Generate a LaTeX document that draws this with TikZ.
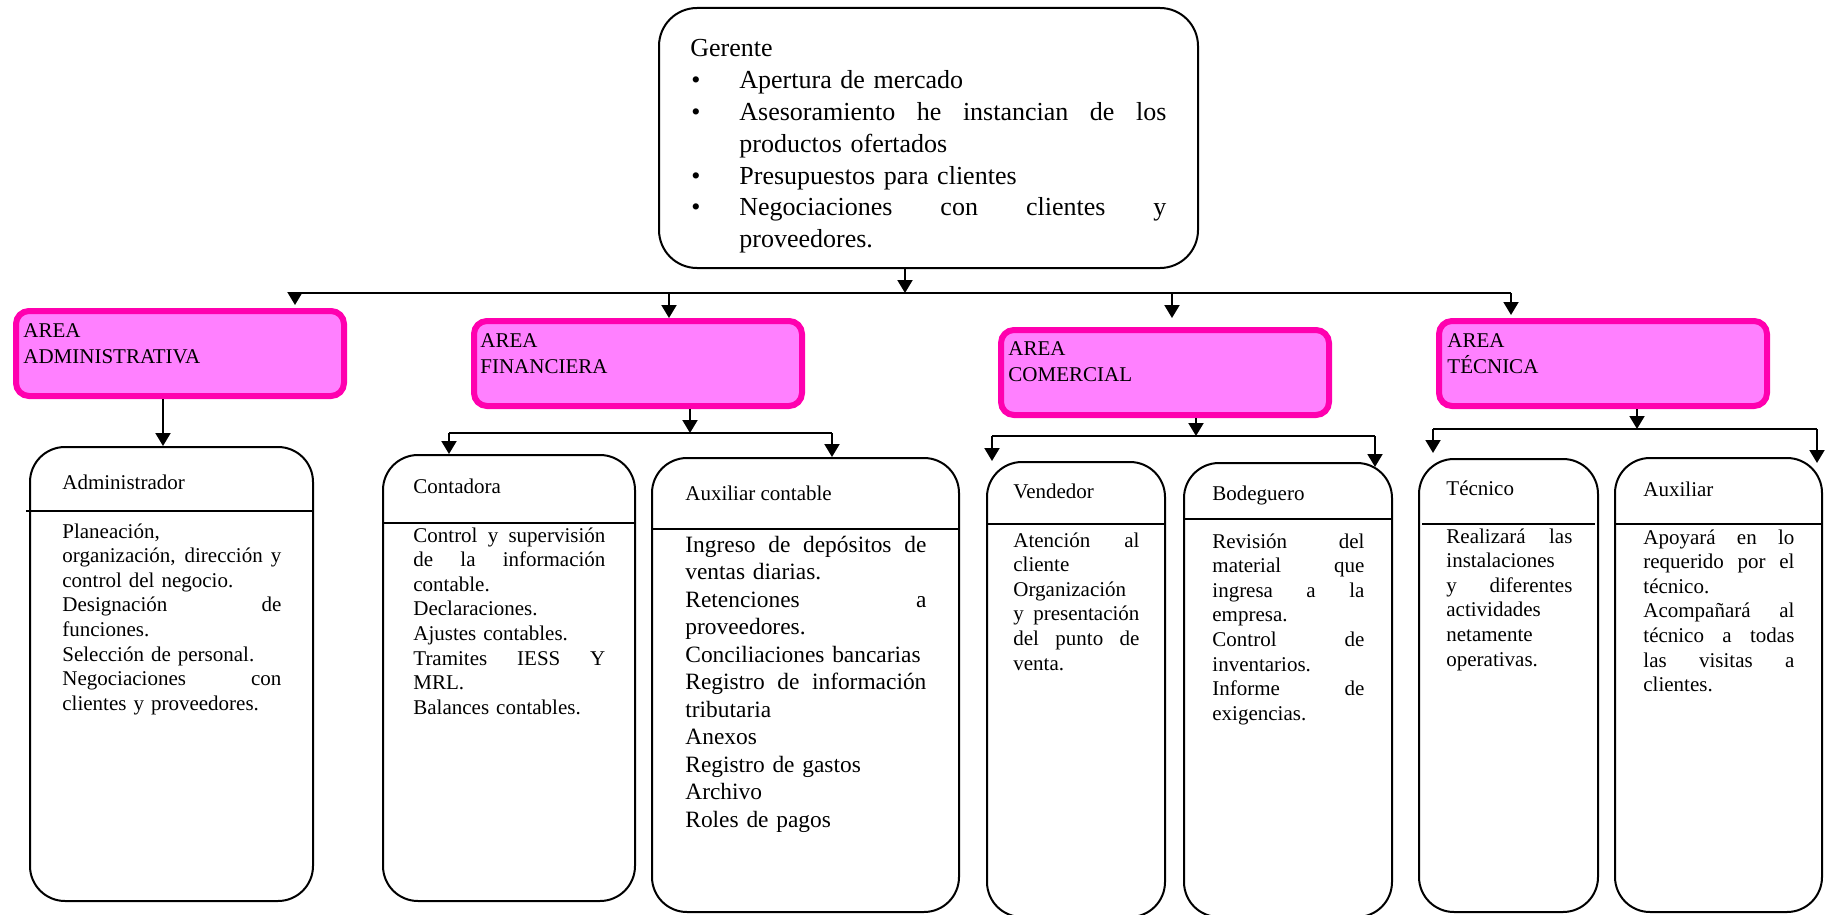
\documentclass[tikz,border=0pt]{standalone}
\usepackage{fontspec}
\setmainfont{Liberation Serif}
\usetikzlibrary{arrows.meta}

\definecolor{areaFill}{RGB}{255,128,255}
\definecolor{areaLine}{RGB}{255,0,175}

\newcommand{\jl}[2][\hsize]{\makebox[#1][s]{\spaceskip=0pt\xspaceskip=0pt #2}}
\newcommand{\gitem}[1]{\makebox[24.5pt][l]{\hspace{0.5pt}\textbullet}#1}

\begin{document}
\begin{tikzpicture}[x=0.5pt, y=-0.5pt,
  arr/.style={-{Triangle[length=6.5pt,width=7.5pt]}, line width=1pt},
  areabox/.style={draw=areaLine, fill=areaFill, line width=3pt, rounded corners=6.5pt,
    minimum width=164pt, minimum height=42.5pt, anchor=north west, inner sep=0pt},
  jobbox/.style={draw, line width=1pt, rounded corners=17.5pt, anchor=north west, inner sep=0pt},
  areatxt/.style={anchor=base west, inner sep=0pt, align=left, text width=150pt,
    font={\fontsize{10.5}{13}\selectfont}},
  titletxt/.style={anchor=base west, inner sep=0pt, font={\fontsize{10.5}{12.3}\selectfont}},
  bodytxt/.style={anchor=base west, inner sep=0pt, align=left,
    font={\fontsize{10.5}{12.3}\selectfont}}]
\useasboundingbox (0,0) rectangle (1825,915);

%% Gerente
\node[jobbox, rounded corners=19pt, minimum width=269.5pt, minimum height=130pt] (gerente) at (658,7) {};
\node[anchor=base west, inner sep=0pt, align=left, text width=238pt,
  font={\fontsize{13}{15.9}\selectfont}] (gerTxt) at (690,57) {Gerente\\
  \gitem{Apertura de mercado}\\
  \gitem{\jl[213.5pt]{Asesoramiento he instancian de los}}\\
  \hspace*{24.5pt}productos ofertados\\
  \gitem{Presupuestos para clientes}\\
  \gitem{\jl[213.5pt]{Negociaciones con clientes y}}\\
  \hspace*{24.5pt}proveedores.};

%% areas
\node[areabox] (admArea) at (13,308) {};
\node[areabox] (finArea) at (471,318) {};
\node[areabox] (comArea) at (998,327) {};
\node[areabox] (tecArea) at (1436,318) {};
\node[areatxt] (admTxt) at (23,337) {AREA\\ADMINISTRATIVA};
\node[areatxt] (finTxt) at (480,347) {AREA\\FINANCIERA};
\node[areatxt] (comTxt) at (1008,355) {AREA\\COMERCIAL};
\node[areatxt] (tecTxt) at (1447,347) {AREA\\TÉCNICA};

%% cargos
\node[jobbox, minimum width=141.5pt, minimum height=227pt] (administrador) at (29,446) {};
\node[jobbox, minimum width=126pt, minimum height=223pt] (contadora) at (382,454) {};
\node[jobbox, minimum width=153.5pt, minimum height=227pt] (auxContable) at (651,457) {};
\node[jobbox, minimum width=89pt, minimum height=227.5pt] (vendedor) at (986,461) {};
\node[jobbox, minimum width=104pt, minimum height=227pt] (bodeguero) at (1183,462) {};
\node[jobbox, minimum width=89.5pt, minimum height=226.5pt] (tecnico) at (1418,458) {};
\node[jobbox, minimum width=103.5pt, minimum height=227pt] (auxiliar) at (1614,457) {};

\draw[line width=1pt] (26,511) -- (314,511);
\draw[line width=1pt] (382,523) -- (636,523);
\draw[line width=1pt] (651,529) -- (960,529);
\draw[line width=1pt] (986,524) -- (1166,524);
\draw[line width=1pt] (1183,519) -- (1393,519);
\draw[line width=1pt] (1422,524) -- (1595,524);
\draw[line width=1pt] (1614,524) -- (1823,524);

\node[titletxt] (admTitle) at (62,489) {Administrador};
\node[titletxt] (conTitle) at (413,493) {Contadora};
\node[titletxt] (auxcTitle) at (685,500) {Auxiliar contable};
\node[titletxt] (venTitle) at (1013,498) {Vendedor};
\node[titletxt] (bodTitle) at (1212,500) {Bodeguero};
\node[titletxt] (tecTitle) at (1446,495) {Técnico};
\node[titletxt] (auxTitle) at (1643,496) {Auxiliar};

\node[bodytxt, text width=109.5pt] (admBody) at (62,538) {Planeación,\\
  \jl{organización, dirección y}\\ control del negocio.\\
  \jl{Designación de}\\ funciones.\\
  Selección de personal.\\
  \jl{Negociaciones con}\\ clientes y proveedores.};
\node[bodytxt, text width=96pt] (conBody) at (413,542) {\jl{Control y supervisión}\\
  \jl{de la información}\\ contable.\\
  Declaraciones.\\
  Ajustes contables.\\
  \jl{Tramites IESS Y}\\ MRL.\\
  Balances contables.};
\node[bodytxt, text width=120.5pt, font={\fontsize{11.7}{13.75}\selectfont}] (auxcBody) at (685,552) {\jl{Ingreso de depósitos de}\\ ventas diarias.\\
  \jl{Retenciones a}\\ proveedores.\\
  \mbox{Conciliaciones bancarias}\\
  \jl{Registro de información}\\ tributaria\\
  Anexos\\
  Registro de gastos\\
  Archivo\\
  Roles de pagos};
\node[bodytxt, text width=63pt] (venBody) at (1013,547) {\jl{Atención al}\\ cliente\\
  Organización\\ \jl{y presentación}\\ \jl{del punto de}\\ venta.};
\node[bodytxt, text width=76pt] (bodBody) at (1212,548) {\jl{Revisión del}\\
  \jl{material que}\\ \jl{ingresa a la}\\ empresa.\\
  \jl{Control de}\\ inventarios.\\
  \jl{Informe de}\\ exigencias.};
\node[bodytxt, text width=63pt] (tecBody) at (1446,543) {\jl{Realizará las}\\
  instalaciones\\ \jl{y diferentes}\\ actividades\\ netamente\\ operativas.};
\node[bodytxt, text width=75.5pt] (auxBody) at (1643,544) {\jl{Apoyará en lo}\\
  \jl{requerido por el}\\ técnico.\\
  \jl{Acompañará al}\\ \jl{técnico a todas}\\ \jl{las visitas a}\\ clientes.};

%% conectores
\coordinate (busG) at (905,293);
\coordinate (busL) at (295,293);
\coordinate (busF) at (669,293);
\coordinate (busC) at (1172,293);
\coordinate (busR) at (1511,293);
\draw[line width=1pt] (busL) -- (busR);
\draw[arr] (busG |- gerente.south) -- (busG);
\draw[arr, shorten >=1.5pt] (busL) -- (busL |- admArea.north);
\draw[arr] (busF) -- (busF |- finArea.north);
\draw[arr, shorten >=4.5pt] (busC) -- (busC |- comArea.north);
\draw[arr, shorten >=1.5pt] (busR) -- (busR |- tecArea.north);

\coordinate (xAdm) at (163,0);
\draw[arr] (admArea.south -| xAdm) -- (xAdm |- administrador.north);

\coordinate (finBus) at (690,433);
\coordinate (finL) at (449,433);
\coordinate (finR) at (832,433);
\draw[arr] (finArea.south -| finBus) -- (finBus);
\draw[line width=1pt] (finL) -- (finR);
\draw[arr] (finL) -- (finL |- contadora.north);
\draw[arr] (finR) -- (finR |- auxContable.north);

\coordinate (comBus) at (1196,436);
\coordinate (comL) at (992,436);
\coordinate (comR) at (1375,436);
\draw[arr] (comArea.south -| comBus) -- (comBus);
\draw[line width=1pt] (comL) -- (comR);
\draw[arr] (comL) -- (comL |- vendedor.north);
\draw[arr, shorten >=-2.5pt] (comR) -- (comR |- bodeguero.north);

\coordinate (tecBus) at (1637,429);
\coordinate (tecL) at (1433,429);
\coordinate (tecR) at (1817,429);
\draw[arr] (tecArea.south -| tecBus) -- (tecBus);
\draw[line width=1pt] (tecL) -- (tecR);
\draw[arr, shorten >=2.5pt] (tecL) -- (tecL |- tecnico.north);
\draw[arr, shorten >=-3pt] (tecR) -- (tecR |- auxiliar.north);
\end{tikzpicture}
\end{document}
